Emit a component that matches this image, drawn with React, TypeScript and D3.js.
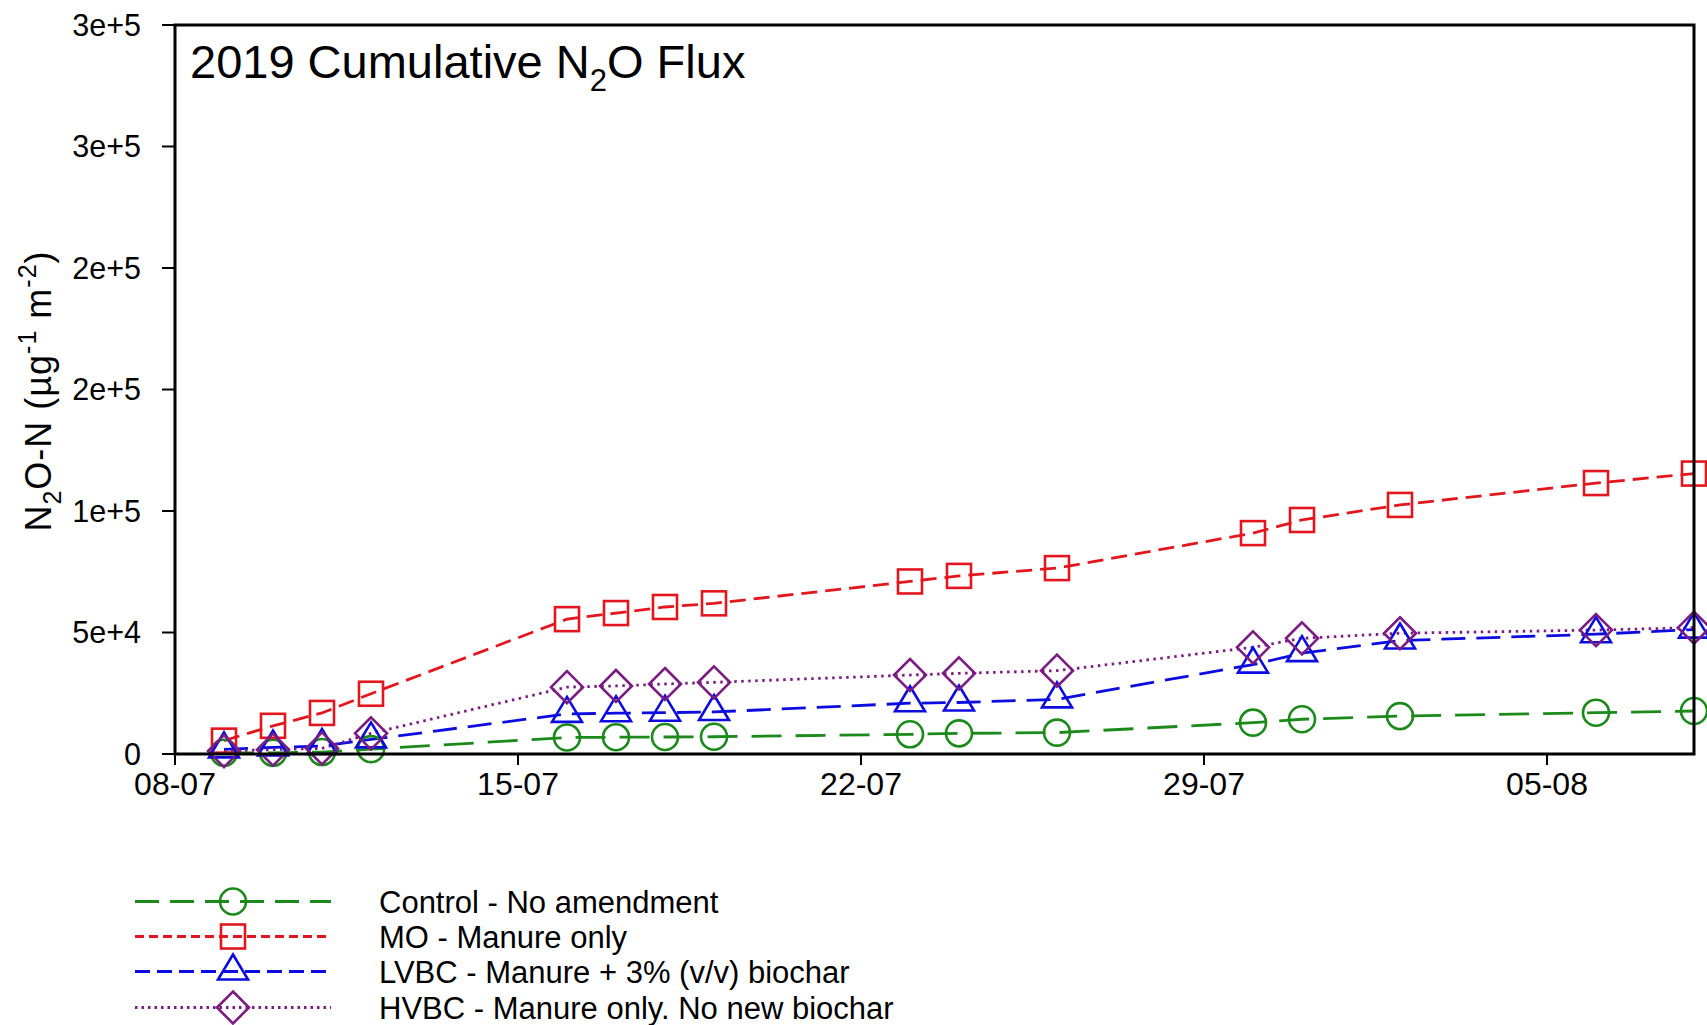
import React from "react";
import * as d3 from "d3";

// Sampling dates (2019)
const sampleDates = [
  "2019-07-09", "2019-07-10", "2019-07-11", "2019-07-12",
  "2019-07-16", "2019-07-17", "2019-07-18", "2019-07-19",
  "2019-07-23", "2019-07-24", "2019-07-26",
  "2019-07-30", "2019-07-31", "2019-08-02", "2019-08-06", "2019-08-08",
];

// Cumulative N2O-N per treatment
const controlValues = [500, 500, 800, 2000, 6800, 6900, 7000, 7100, 8100, 8500, 8800, 12900, 14300, 15600, 17000, 17700];
const moValues = [5500, 11600, 16900, 24800, 55500, 58000, 60500, 62000, 71000, 73300, 76500, 90900, 96300, 102500, 111500, 115400];
const lvbcValues = [1900, 2700, 3300, 6000, 16500, 16800, 17000, 17300, 20900, 21200, 22500, 36800, 41500, 46700, 49300, 51200];
const hvbcValues = [1200, 1800, 2300, 8500, 27500, 28000, 28800, 29500, 32500, 33200, 34300, 43900, 47600, 49700, 51000, 52000];

const seriesNames = [
  "Control - No amendment",
  "MO - Manure only",
  "LVBC - Manure + 3% (v/v) biochar",
  "HVBC - Manure only. No new biochar",
];

const xTickDates = ["2019-07-08", "2019-07-15", "2019-07-22", "2019-07-29", "2019-08-05"];
const xTickLabels = ["08-07", "15-07", "22-07", "29-07", "05-08"];
const yTickValues = [0, 50000, 100000, 150000, 200000, 250000, 300000];
const yTickLabels = ["0", "5e+4", "1e+5", "2e+5", "2e+5", "3e+5", "3e+5"];

const FONT = "'Liberation Sans', Arial, sans-serif";

type MarkerKind = "circle" | "square" | "triangle" | "diamond";

const styles: { color: string; dash: string; legendDash: string; marker: MarkerKind }[] = [
  { color: "#1b8a1b", dash: "30 14", legendDash: "24 11", marker: "circle" },
  { color: "#e3161e", dash: "16 8", legendDash: "9 5", marker: "square" },
  { color: "#0c0ce0", dash: "24 11", legendDash: "15 7", marker: "triangle" },
  { color: "#7a1c82", dash: "2.5 4.5", legendDash: "2.5 4", marker: "diamond" },
];

function Marker({ kind, x, y, color }: { kind: MarkerKind; x: number; y: number; color: string }) {
  const common = { fill: "none", stroke: color, strokeWidth: 2.6 };
  if (kind === "circle") return <circle cx={x} cy={y} r={13} {...common} />;
  if (kind === "square") return <rect x={x - 12} y={y - 12} width={24} height={24} {...common} />;
  if (kind === "triangle")
    return <path d={`M${x},${y - 17} L${x + 15},${y + 8} L${x - 15},${y + 8} Z`} {...common} />;
  return <path d={`M${x},${y - 16} L${x + 16},${y} L${x},${y + 16} L${x - 16},${y} Z`} {...common} />;
}

export default function App() {
  const W = 1707, H = 1025;
  const left = 175, right = 1694, top = 25, bottom = 754;

  const parse = d3.timeParse("%Y-%m-%d");
  const dates = sampleDates.map((d) => parse(d) as Date);
  const x = d3.scaleTime()
    .domain([parse("2019-07-08") as Date, parse("2019-08-08") as Date])
    .range([left, right]);
  const y = d3.scaleLinear().domain([0, 300000]).range([bottom, top]);

  const allSeries = [controlValues, moValues, lvbcValues, hvbcValues];
  const line = d3.line<number>()
    .x((_, i) => x(dates[i]))
    .y((v) => y(v));

  const legendY = [901.5, 936.5, 971.5, 1007.5];

  return (
    <div style={{ position: "absolute", left: 0, top: 0 }}>
      <svg width={W} height={H} style={{ display: "block", background: "#fff" }} fontFamily={FONT}>
        <rect width={W} height={H} fill="#fff" />

        {/* series lines */}
        {allSeries.map((vals, si) => (
          <path key={"l" + si} d={line(vals) || ""} fill="none" stroke={styles[si].color}
            strokeWidth={2.8} strokeDasharray={styles[si].dash} />
        ))}
        {/* series markers */}
        {allSeries.map((vals, si) =>
          vals.map((v, i) => (
            <Marker key={`m${si}-${i}`} kind={styles[si].marker} x={x(dates[i])} y={y(v)} color={styles[si].color} />
          ))
        )}

        {/* frame */}
        <path d={`M${left},${top} H${right} V${bottom} H${left} Z`} fill="none" stroke="#000" strokeWidth={3} />

        {/* y axis ticks */}
        {yTickValues.map((v, i) => (
          <g key={"yt" + i}>
            <line x1={left - 13} x2={left} y1={y(v)} y2={y(v)} stroke="#000" strokeWidth={2} />
            <text x={141} y={y(v)} dy="0.36em" textAnchor="end" fontSize={30.5} fill="#000">{yTickLabels[i]}</text>
          </g>
        ))}

        {/* x axis ticks */}
        {xTickDates.map((d, i) => {
          const xx = x(parse(d) as Date);
          return (
            <g key={"xt" + i}>
              <line x1={xx} x2={xx} y1={bottom} y2={bottom + 11} stroke="#000" strokeWidth={2} />
              <text x={xx} y={795} textAnchor="middle" fontSize={32} fill="#000">{xTickLabels[i]}</text>
            </g>
          );
        })}

        {/* y axis title */}
        <text transform="translate(51,391) rotate(-90)" textAnchor="middle" fontSize={36} letterSpacing={1} fill="#000">
          N<tspan fontSize={25} dy={10}>2</tspan>
          <tspan dy={-10}>O-N (µg</tspan>
          <tspan fontSize={25} dy={-15}>-1</tspan>
          <tspan dy={15}> m</tspan>
          <tspan fontSize={25} dy={-15}>-2</tspan>
          <tspan dy={15}>)</tspan>
        </text>

        {/* chart title */}
        <text x={190} y={78} fontSize={47} fill="#000">
          2019 Cumulative N<tspan fontSize={31} dy={13}>2</tspan>
          <tspan dy={-13}>O Flux</tspan>
        </text>

        {/* legend */}
        {seriesNames.map((name, i) => (
          <g key={"lg" + i}>
            <line x1={135} x2={331} y1={legendY[i]} y2={legendY[i]} stroke={styles[i].color}
              strokeWidth={2.8} strokeDasharray={styles[i].legendDash} />
            <Marker kind={styles[i].marker} x={233} y={legendY[i]} color={styles[i].color} />
            <text x={379} y={legendY[i]} dy="0.36em" fontSize={31} fill="#000">{name}</text>
          </g>
        ))}
      </svg>
    </div>
  );
}
